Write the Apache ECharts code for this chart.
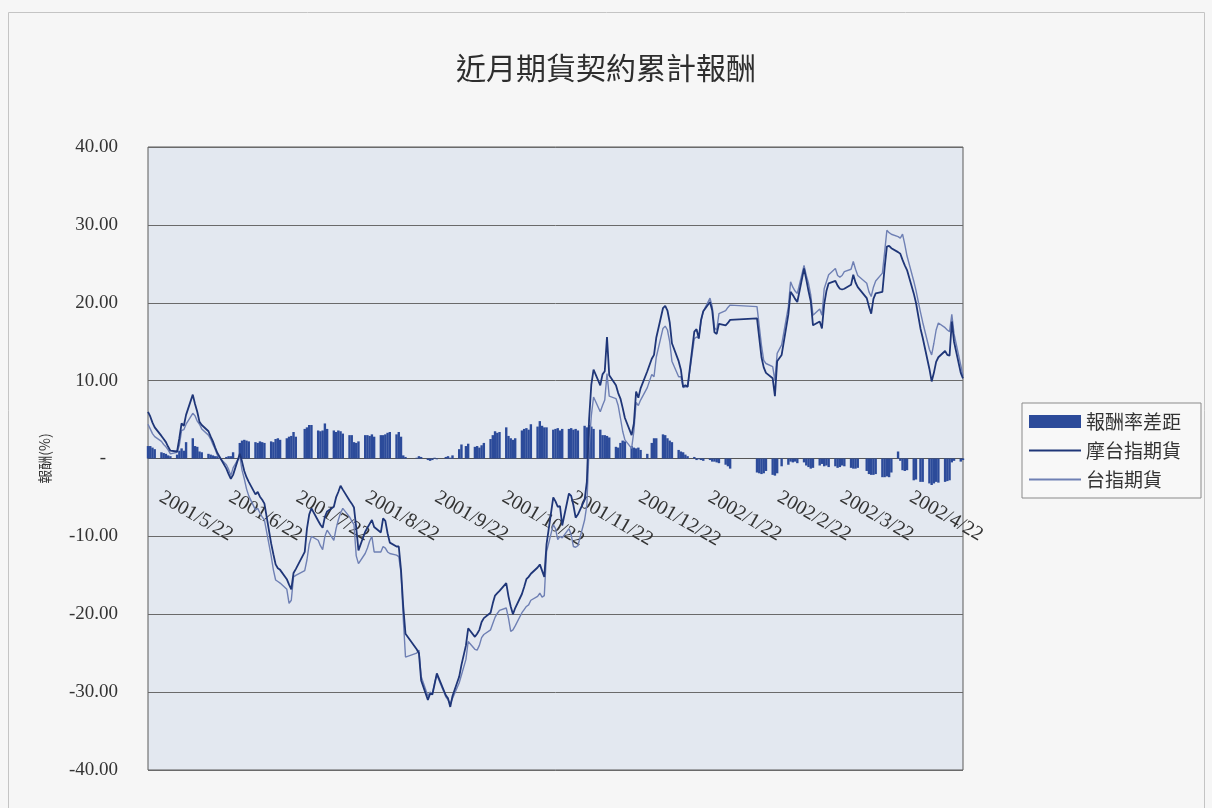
<!DOCTYPE html>
<html>
<head>
<meta charset="utf-8">
<title>近月期貨契約累計報酬</title>
<script src="https://cdn.jsdelivr.net/npm/echarts@6/dist/echarts.min.js"></script>
<style>
  html, body { margin: 0; padding: 0; background: #f6f6f6; }
  #chart { width: 1212px; height: 808px; }
</style>
</head>
<body>
<div id="chart"></div>
<script>
// Trading calendar: one list of trading days per month
const monthKeys = ['2001-05','2001-06','2001-07','2001-08','2001-09','2001-10','2001-11','2001-12','2002-01','2002-02','2002-03','2002-04','2002-05'];
const monthDays = [
  [22,23,24,25,28,29,30,31],
  [1,4,5,6,7,8,11,12,13,14,15,18,19,20,21,22,26,27,28,29],
  [2,3,4,5,6,9,10,11,12,13,16,17,18,19,20,23,24,25,26,27,31],
  [1,2,3,6,7,8,9,10,13,14,15,16,17,20,21,22,23,24,27,28,29,30,31],
  [3,4,5,6,7,10,11,12,13,14,19,20,21,24,25,26,27,28],
  [2,3,4,5,8,9,11,12,15,16,17,18,19,22,23,24,25,26,29,30,31],
  [1,2,5,6,7,8,9,12,13,14,15,16,19,20,21,22,23,26,27,28,29,30],
  [3,4,5,6,7,10,11,12,13,14,17,18,19,20,21,24,25,26,27,28,31],
  [2,3,4,7,8,9,10,11,14,15,16,17,18,21,22,23,24,25,28,29,30,31],
  [1,4,5,6,18,19,20,21,22,25,26,27],
  [1,4,5,6,7,8,11,12,13,14,15,18,19,20,21,22,25,26,27,28,29],
  [1,2,3,4,8,9,10,11,12,15,16,17,18,19,22,23,24,25,26,29,30],
  [2,3,6,7,8,9,10,13,14,15,16,17,20,21]
];

// Axis label dates (22nd of each month)
const tickLabels = ['2001-05-22','2001-06-22','2001-07-22','2001-08-22','2001-09-22','2001-10-22','2001-11-22','2001-12-22','2002-01-22','2002-02-22','2002-03-22','2002-04-22'];
const axisStart = '2001-05-22';
const axisEnd = '2002-05-21';

// 摩台指期貨 cumulative return (%)
const mtxReturn = [
  6.0, 5.4, 4.6, 4.0, 2.9, 2.5, 2.1, 1.5,
  1.0, 0.9, 2.6, 4.5, 4.2, 5.6, 8.2, 7.0, 6.0, 4.7, 4.3, 3.5, 2.8, 2.2, 1.4, 0.7, -1.3, -2.0, -2.6, -2.1,
  0.6, -0.4, -1.6, -2.4, -3.0, -4.6, -4.3, -4.9, -5.3, -5.8, -10.9, -12.3, -13.6, -14.1, -14.3, -15.5, -16.2, -16.8, -14.7, -14.2, -12.0,
  -9.0, -7.2, -6.4, -8.0, -8.5, -8.9, -7.5, -6.8, -6.2, -5.0, -4.3, -3.5, -4.0, -5.4, -5.8, -6.3, -8.9, -11.8, -9.4, -8.9, -8.4, -7.9, -8.8,
  -9.5, -7.7, -8.0, -9.6, -10.8, -11.3, -11.3, -14.3, -19.0, -22.5, -24.5, -25.0, -28.5, -31.0, -30.2, -30.3, -29.0, -27.6,
  -30.4, -30.8, -31.9, -30.5, -28.0, -26.5, -24.0, -21.8, -22.9, -22.5, -22.0, -21.0, -20.5, -19.8, -18.6, -17.6, -17.3, -17.0, -16.0, -17.7, -19.0,
  -20.0, -19.2, -17.4, -16.5, -15.5, -15.2, -14.8, -14.0, -13.6, -14.4, -15.2, -11.0, -5.0, -5.5, -6.2, -6.1, -8.6, -4.5, -4.8, -6.0, -7.6, -7.2,
  -5.3, -3.0, 5.0, 9.5, 11.4, 9.4, 10.8, 11.2, 15.6, 10.7, 9.4, 8.4, 7.7, 6.5, 5.2, 3.0, 4.5, 8.6, 7.8, 9.0, 11.2,
  12.8, 13.3, 15.5, 19.3, 19.6, 19.0, 17.5, 14.8, 12.5, 11.4, 9.2, 9.4, 9.2, 16.3, 16.6, 15.4, 17.8, 18.9, 20.1, 19.0, 16.2, 16.0,
  17.3, 17.1, 17.4, 17.8, 18.0, 15.5, 13.0, 11.7, 11.0, 10.3, 8.0, 12.5,
  13.3, 18.5, 21.4, 21.0, 20.5, 20.1, 24.4, 23.0, 21.5, 20.2, 17.1, 17.6, 16.7, 19.8, 21.5, 22.5, 22.8, 22.2, 21.8, 21.7, 21.8,
  22.3, 23.6, 22.6, 22.0, 20.6, 19.5, 18.6, 20.5, 21.2, 21.4, 24.5, 27.2, 27.3, 27.0, 26.5, 26.3, 25.5, 24.8, 24.2, 21.2, 20.0,
  16.7, 15.5, 11.5, 9.9, 11.0, 12.4, 13.0, 13.8, 13.3, 13.2, 17.6, 15.0, 11.0, 10.3
];

// 台指期貨 cumulative return (%)
const taiexReturn = [
  4.4, 3.8, 3.2, 2.8, 2.2, 1.8, 1.5, 1.1,
  0.6, 0.8, 1.7, 3.6, 3.7, 4.4, 5.8, 5.5, 4.8, 4.4, 3.8, 3.0, 2.5, 1.8, 1.2, 0.4, -0.8, -1.4, -2.2, -1.2,
  0.3, -1.5, -2.6, -3.9, -4.8, -6.6, -6.4, -7.0, -7.5, -7.9, -12.5, -14.3, -15.6, -15.8, -16.0, -16.8, -18.6, -18.2, -15.2, -15.0, -14.4,
  -13.0, -11.0, -10.0, -10.5, -11.2, -11.7, -10.0, -9.2, -10.5, -9.0, -7.9, -7.0, -6.4, -7.5, -8.0, -8.5, -12.5, -13.5, -12.2, -11.5, -10.6, -10.0, -12.0,
  -12.0, -11.3, -11.5, -12.0, -12.2, -12.4, -12.6, -14.7, -20.5, -25.5, -25.0, -24.6, -28.0, -30.5, -30.0, -30.2, -28.8, -27.8,
  -30.6, -31.0, -31.5, -30.8, -28.8, -27.8, -25.8, -23.5, -24.5, -24.6, -24.0, -23.0, -22.6, -22.0, -21.2, -20.4, -19.9, -19.5, -19.2, -20.5, -22.2,
  -22.0, -21.5, -19.8, -19.4, -19.0, -18.8, -18.2, -17.7, -17.3, -17.8, -17.6, -12.0, -8.5, -9.0, -10.4, -10.0, -10.2, -9.0, -9.8, -11.3, -11.4, -11.2,
  -7.9, -6.0, 1.5, 5.5, 7.9, 6.0, 6.8, 7.5, 10.9, 8.0, 7.7, 6.8, 5.2, 3.5, 2.4, 1.3, 3.5, 7.2, 6.8, 7.5, 9.1,
  10.8, 10.5, 13.0, 16.7, 17.0, 16.5, 15.0, 12.5, 10.5, 10.5, 9.1, 9.2, 9.2, 15.4, 15.6, 15.5, 17.6, 18.9, 20.6, 19.5, 16.8, 16.5,
  18.6, 19.0, 19.4, 19.7, 19.5, 17.0, 14.5, 12.6, 12.2, 11.8, 10.0, 13.5,
  14.6, 19.5, 22.7, 22.0, 21.5, 21.2, 24.8, 23.5, 22.5, 21.0, 18.4, 19.2, 18.4, 21.8, 22.7, 23.6, 24.4, 23.5, 23.3, 23.5, 24.0,
  24.3, 25.3, 24.3, 23.5, 22.5, 21.4, 20.8, 22.0, 22.8, 23.8, 26.5, 29.3, 29.0, 28.8, 28.5, 28.3, 28.8, 27.5, 26.0, 22.8, 21.6,
  18.8, 17.5, 14.0, 13.3, 14.8, 16.5, 17.4, 16.8, 16.5, 16.3, 18.5, 16.0, 12.0, 10.6
];

// 報酬率差距 (%)
const spreadReturn = [
  1.6, 1.6, 1.4, 1.2, 0.8, 0.7, 0.6, 0.4,
  0.3, 0.5, 1.0, 1.3, 1.0, 2.1, 2.6, 1.6, 1.5, 0.9, 0.8, 0.6, 0.5, 0.4, 0.3, 0.3, 0.2, 0.3, 0.3, 0.8,
  2.0, 2.3, 2.4, 2.3, 2.2, 2.1, 2.0, 2.2, 2.1, 2.0, 2.2, 2.1, 2.5, 2.6, 2.4, 2.6, 2.8, 2.9, 3.4, 2.8, 3.8,
  4.0, 4.3, 4.3, 3.6, 3.5, 3.6, 4.5, 3.8, 3.6, 3.4, 3.6, 3.5, 3.2, 3.0, 3.0, 2.1, 2.0, 2.2, 3.0, 3.0, 2.9, 3.1, 2.8,
  3.0, 3.0, 3.1, 3.3, 3.4, 3.1, 3.4, 2.8, 0.4, 0.2, 0.1, 0.3, 0.2, -0.2, -0.3, -0.2, 0.1, -0.1,
  0.2, 0.3, 0.1, 0.4, 1.2, 1.8, 1.6, 1.9, 1.5, 1.6, 1.4, 1.7, 2.0, 2.5, 3.0, 3.5, 3.3, 3.4, 4.0, 2.9, 2.6,
  2.4, 2.6, 3.6, 3.8, 3.9, 3.7, 4.4, 4.1, 4.8, 4.2, 4.0, 4.0, 3.7, 3.8, 3.9, 3.6, 3.8, 3.8, 3.9, 3.7, 3.8, 3.6,
  4.2, 4.0, 4.3, 4.1, 3.8, 3.7, 3.0, 3.0, 2.9, 2.7, 1.5, 1.4, 2.0, 2.3, 2.2, 1.6, 1.4, 1.3, 1.4, 1.1, 0.6,
  2.0, 2.6, 2.6, 3.1, 3.0, 2.6, 2.3, 2.1, 1.1, 0.9, 0.8, 0.5, 0.3, 0.2, -0.2, -0.1, -0.2, -0.3, -0.2, -0.4, -0.4, -0.5,
  -0.6, -0.8, -1.0, -1.3, -1.8, -1.9, -2.0, -1.9, -1.6, -2.1, -2.2, -1.9,
  -1.0, -0.8, -0.4, -0.5, -0.4, -0.6, -0.5, -0.9, -1.1, -1.3, -1.2, -0.9, -0.7, -1.0, -0.9, -1.1, -1.0, -1.2, -1.1, -0.9, -1.0,
  -1.2, -1.3, -1.3, -1.2, -1.6, -2.0, -2.1, -2.1, -2.0, -2.4, -2.4, -2.3, -2.4, -1.8, 0.9, -0.3, -1.5, -1.6, -1.5, -2.8, -2.7,
  -3.0, -3.0, -3.2, -3.4, -3.2, -3.0, -3.1, -3.0, -2.9, -2.8, -0.5, -0.3, -0.4, -0.2
];

// Dates are placed on a numeric axis as timestamps
function toTime(s) {
  const p = s.split('-').map(Number);
  return new Date(p[0], p[1] - 1, p[2]).getTime();
}

const tradeDates = [];
monthKeys.forEach((m, i) => {
  monthDays[i].forEach(d => tradeDates.push(m + '-' + String(d).padStart(2, '0')));
});
const pairs = arr => tradeDates.map((t, i) => [toTime(t), arr[i]]);

const serifFont = '"Liberation Serif", "DejaVu Serif", serif';
const cjkFont = '"Noto Sans CJK TC", "Noto Sans", sans-serif';

// Plot rectangle
const gridTop = 147, gridBottom = 38, chartHeight = 808;
const yMin = -40, yMax = 40;
const plotHeight = chartHeight - gridTop - gridBottom;
// distance from the plot's bottom edge up to the zero line, used to lift the date axis
const zeroLift = plotHeight * (0 - yMin) / (yMax - yMin);

const chart = echarts.init(document.getElementById('chart'), null, { renderer: 'canvas' });
chart.setOption({
  backgroundColor: '#f6f6f6',
  animation: false,
  graphic: [{
    type: 'rect',
    shape: { x: 8.5, y: 12.5, width: 1196, height: 800 },
    style: { fill: 'none', stroke: '#c4c4c4', lineWidth: 1 },
    silent: true
  }],
  title: {
    text: '近月期貨契約累計報酬',
    left: 'center',
    top: 48,
    textStyle: { fontFamily: cjkFont, fontSize: 30, fontWeight: 'normal', color: '#2e2e2e' }
  },
  legend: {
    orient: 'vertical',
    left: 1022,
    top: 403,
    padding: [9, 20, 9, 6],
    itemGap: 10,
    itemWidth: 52,
    itemHeight: 13,
    borderColor: '#8a8a8a',
    borderWidth: 1,
    backgroundColor: '#f8f8f8',
    textStyle: { fontFamily: cjkFont, fontSize: 19, color: '#333' },
    data: [
      { name: '報酬率差距', icon: 'rect' },
      { name: '摩台指期貨', itemStyle: { opacity: 0 } },
      { name: '台指期貨', itemStyle: { opacity: 0 } }
    ]
  },
  grid: {
    left: 148, right: 249, top: gridTop, bottom: gridBottom,
    outerBoundsMode: 'none',
    show: true,
    backgroundColor: '#e3e8f0',
    borderColor: '#5a5a5a',
    borderWidth: 1
  },
  xAxis: {
    type: 'value',
    min: toTime(axisStart),
    max: toTime(axisEnd),
    offset: -zeroLift,
    axisLine: { show: true, onZero: false, lineStyle: { color: '#555', width: 1 } },
    axisTick: { show: false },
    splitLine: { show: false },
    axisLabel: {
      customValues: tickLabels.map(toTime),
      rotate: -30,
      margin: 30,
      padding: [0, 0, 0, 15],
      fontFamily: serifFont,
      fontSize: 20,
      color: '#333',
      formatter: function (value) {
        const d = new Date(value);
        return d.getFullYear() + '/' + (d.getMonth() + 1) + '/' + d.getDate();
      }
    }
  },
  yAxis: {
    type: 'value',
    min: yMin,
    max: yMax,
    interval: 10,
    name: '報酬(%)',
    nameLocation: 'middle',
    nameRotate: 90,
    nameGap: 96,
    nameTextStyle: { fontFamily: cjkFont, fontSize: 14, color: '#333', padding: [0, 0, 0, 0] },
    axisLine: { show: false },
    axisTick: { show: false },
    splitLine: { lineStyle: { color: '#6a6a6a', width: 1 } },
    axisLabel: {
      margin: 30,
      fontFamily: serifFont,
      fontSize: 19,
      color: '#333',
      formatter: function (v) { return v === 0 ? '{z|-}' : v.toFixed(2); },
      rich: { z: { fontFamily: serifFont, fontSize: 19, color: '#333', padding: [0, 12, 0, 0] } }
    }
  },
  series: [
    {
      name: '報酬率差距',
      type: 'bar',
      barWidth: 2.4,
      itemStyle: { color: '#2c4b9a' },
      data: pairs(spreadReturn),
      z: 2
    },
    {
      name: '摩台指期貨',
      type: 'line',
      symbol: 'none',
      lineStyle: { color: '#1f3678', width: 1.8 },
      itemStyle: { color: '#1f3678' },
      data: pairs(mtxReturn),
      z: 4
    },
    {
      name: '台指期貨',
      type: 'line',
      symbol: 'none',
      lineStyle: { color: '#6f80b4', width: 1.4 },
      itemStyle: { color: '#6f80b4' },
      data: pairs(taiexReturn),
      z: 3
    }
  ]
});
</script>
</body>
</html>
